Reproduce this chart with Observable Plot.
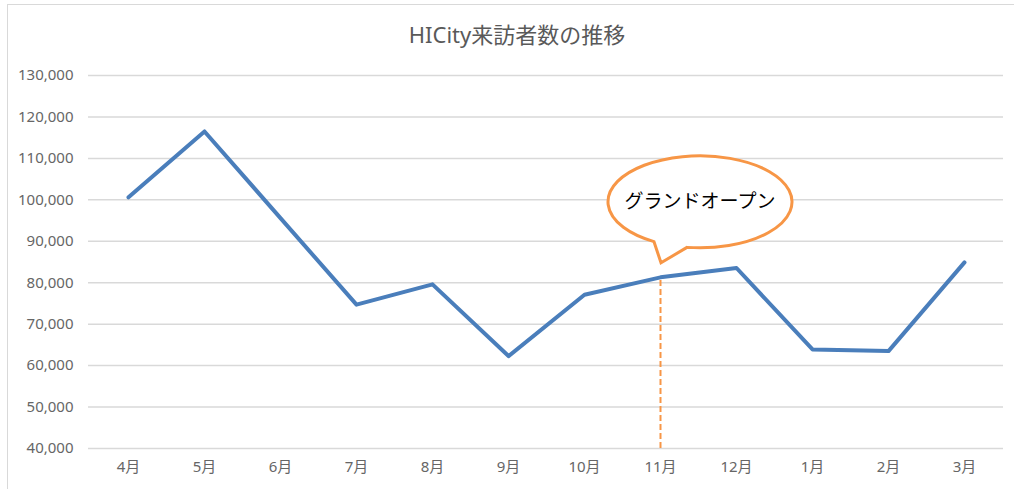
<!DOCTYPE html>
<html>
<head>
<meta charset="utf-8">
<script src="https://cdn.jsdelivr.net/npm/d3@7"></script>
<script src="https://cdn.jsdelivr.net/npm/@observablehq/plot@0.6"></script>
<style>
  html, body { margin: 0; padding: 0; background: #fff; }
  body { width: 1014px; height: 489px; overflow: hidden; position: relative;
         font-family: "Noto Sans", "Noto Sans CJK JP", sans-serif; }
  #frame { position: absolute; left: 7px; top: 4px; width: 1100px; height: 600px;
           border-left: 1.5px solid #d9d9d9; border-top: 1.5px solid #d9d9d9; box-sizing: border-box; }
  #title { position: absolute; left: 0; top: 0; width: 1014px; height: 60px;
           text-align: center; font-size: 22px; color: #595959; padding-left: 20px; box-sizing: border-box;
           padding-top: 8px; line-height: 52px; font-family: "Noto Sans", "Noto Sans CJK JP", sans-serif; }
  #chart { position: absolute; left: 0; top: 60px; }
</style>
</head>
<body>
<div id="frame"></div>
<div id="title">HICity来訪者数の推移</div>
<div id="chart"></div>
<script>
// ---- data ----
const months = ["4月","5月","6月","7月","8月","9月","10月","11月","12月","1月","2月","3月"];
const visitors = [100600, 116500, 95600, 74700, 79600, 62300, 77100, 81300, 83550, 63900, 63500, 84900];
const yTicks = [40000, 50000, 60000, 70000, 80000, 90000, 100000, 110000, 120000, 130000];
const calloutMonth = "11月";
const calloutLabel = "グランドオープン";

const data = months.map((m, i) => ({month: m, value: visitors[i]}));
const calloutValue = visitors[months.indexOf(calloutMonth)];

const fontFamily = '"Noto Sans", "Noto Sans CJK JP", sans-serif';

const plot = Plot.plot({
  width: 1014,
  height: 429,
  marginLeft: 88,
  marginRight: 11,
  marginTop: 15,
  marginBottom: 41,
  style: {fontFamily, fontSize: "15px", color: "#595959", background: "transparent", overflow: "visible"},
  x: {type: "point", domain: months, padding: 0.5, label: null},
  y: {domain: [40000, 130000], label: null},
  marks: [
    Plot.gridY(yTicks, {stroke: "#d9d9d9", strokeOpacity: 1, strokeWidth: 1.5}),
    Plot.axisY(yTicks, {tickSize: 0, tickPadding: 15, tickFormat: d3.format(","), fill: "#595959", label: null}),
    Plot.axisX(months, {tickSize: 0, tickPadding: 13, fill: "#595959", label: null}),
    Plot.ruleX([calloutMonth], {x: d => d, y1: 40000, y2: calloutValue, stroke: "#F79646", strokeWidth: 2, strokeDasharray: "6,3"}),
    Plot.line(data, {x: "month", y: "value", stroke: "#4A7EBB", strokeWidth: 4, strokeLinejoin: "round", strokeLinecap: "round"})
  ]
});
document.getElementById("chart").appendChild(plot);
const svg = d3.select(plot);
svg.selectAll("text").style("font-size", "15px").style("font-family", fontFamily).style("fill", "#666");

// ---- callout annotation positioned from the scales ----
const sx = plot.scale("x"), sy = plot.scale("y");
const ax = sx.apply(calloutMonth), ay = sy.apply(calloutValue);
const cx = ax + 40, cy = ay - 75, rx = 92, ry = 46;
const ptOn = (x) => {
  const dx = x - cx;
  const dy = ry * Math.sqrt(Math.max(0, 1 - (dx / rx) * (dx / rx)));
  return [x, cy + dy];
};
const L = ptOn(ax - 6), R = ptOn(ax + 27);
const tip = [ax + 1, ay - 14];
const path = `M${L[0]},${L[1]} L${tip[0]},${tip[1]} L${R[0]},${R[1]} A${rx},${ry} 0 1 0 ${L[0]},${L[1]} Z`;
const g = svg.append("g");
g.append("path").attr("d", path).attr("fill", "#fff").attr("stroke", "#F79646")
  .attr("stroke-width", 3).attr("stroke-linejoin", "miter");
g.append("text").attr("x", cx).attr("y", cy + 1).attr("text-anchor", "middle")
  .attr("dominant-baseline", "middle").attr("font-size", 19).attr("fill", "#000")
  .attr("font-family", '"Noto Sans CJK JP", sans-serif').text(calloutLabel);
</script>
</body>
</html>
